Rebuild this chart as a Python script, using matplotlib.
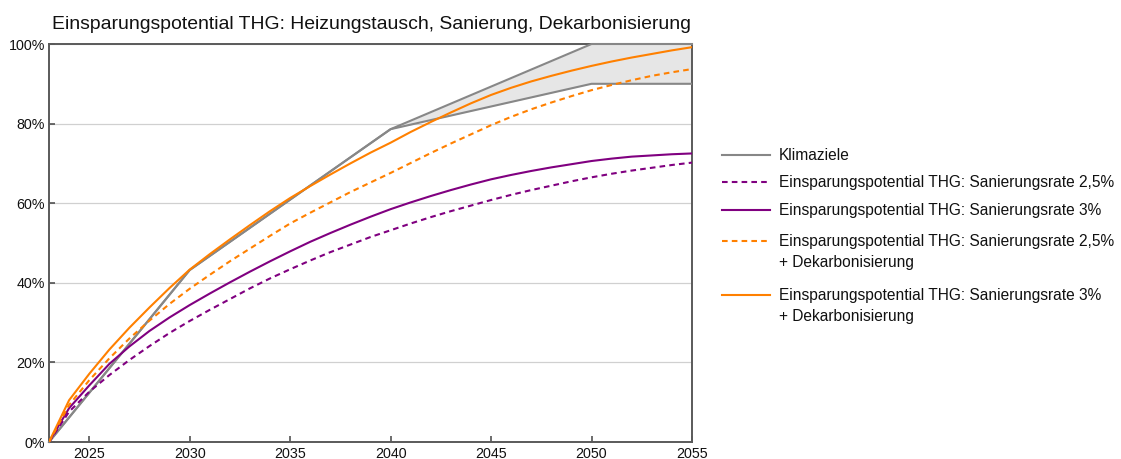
import matplotlib
matplotlib.use("Agg")
import matplotlib.pyplot as plt
from matplotlib.lines import Line2D

plt.rcParams['font.family'] = ['Liberation Sans', 'DejaVu Sans']

# ---------------- data ----------------
years = list(range(2023, 2056))

# Klimaziele (climate targets): corridor
ziel_years = [2023, 2030, 2040, 2050, 2055]
ziel_upper = [0, 43.2, 78.6, 100, 100]
ziel_lower = [0, 43.2, 78.6, 90, 90]

san25 = [0, 7.6, 12.6, 16.8, 20.6, 24.1, 27.4, 30.4, 33.2, 35.9, 38.6, 41.1, 43.4,
         45.6, 47.7, 49.6, 51.5, 53.2, 54.9, 56.5, 58.0, 59.4, 60.8, 62.1, 63.3,
         64.4, 65.5, 66.5, 67.4, 68.2, 68.9, 69.6, 70.2]
san3 = [0, 8.5, 14.2, 19.6, 24.0, 27.9, 31.3, 34.4, 37.3, 40.1, 42.8, 45.4, 47.9,
        50.3, 52.5, 54.6, 56.6, 58.5, 60.2, 61.8, 63.3, 64.7, 66.0, 67.1, 68.1,
        69.0, 69.8, 70.6, 71.2, 71.7, 72.0, 72.3, 72.5]
san25_dek = [0, 9.3, 15.5, 21.0, 26.0, 30.5, 34.7, 38.5, 42.0, 45.4, 48.6, 51.8, 54.9,
             57.6, 60.2, 62.8, 65.2, 67.6, 70.1, 72.6, 75.0, 77.3, 79.6, 81.7, 83.6,
             85.3, 86.9, 88.4, 89.7, 90.9, 92.0, 92.9, 93.7]
san3_dek = [0, 10.5, 17.1, 23.2, 28.7, 33.8, 38.7, 43.3, 47.2, 50.9, 54.5, 58.0, 61.3,
            64.3, 67.2, 70.0, 72.7, 75.2, 77.9, 80.4, 82.8, 85.1, 87.2, 89.0, 90.6,
            92.0, 93.3, 94.5, 95.6, 96.6, 97.5, 98.4, 99.2]

labels = ["Klimaziele",
          "Einsparungspotential THG: Sanierungsrate 2,5%",
          "Einsparungspotential THG: Sanierungsrate 3%",
          "Einsparungspotential THG: Sanierungsrate 2,5%\n+ Dekarbonisierung",
          "Einsparungspotential THG: Sanierungsrate 3%\n+ Dekarbonisierung"]
title = "Einsparungspotential THG: Heizungstausch, Sanierung, Dekarbonisierung"
xticks = [2025, 2030, 2035, 2040, 2045, 2050, 2055]
yticks = [0, 20, 40, 60, 80, 100]

# ---------------- styles ----------------
GRAY = "#878787"
PURPLE = "#800080"
ORANGE = "#ff8000"
LW = 1.5
DASH = (2.7, 2.0)
TXT = "#111111"

W, H = 1121, 459
fig = plt.figure(figsize=(W / 100, H / 100), dpi=100)
ax = fig.add_axes([49 / W, 1 - 442 / H, (692 - 49) / W, (442 - 44) / H])

ax.fill_between(ziel_years, ziel_lower, ziel_upper, color="#e6e6e6", lw=0, zorder=1)
ax.plot(ziel_years, ziel_upper, color=GRAY, lw=LW, zorder=3, solid_joinstyle='miter', clip_on=False)
ax.plot(ziel_years, ziel_lower, color=GRAY, lw=LW, zorder=3, solid_joinstyle='miter')
ax.plot(years, san25, color=PURPLE, lw=LW, dashes=DASH, zorder=4)
ax.plot(years, san3, color=PURPLE, lw=LW, zorder=4)
ax.plot(years, san25_dek, color=ORANGE, lw=LW, dashes=DASH, zorder=5)
ax.plot(years, san3_dek, color=ORANGE, lw=LW, zorder=5)

ax.set_xlim(2023, 2055)
ax.set_ylim(0, 100)
ax.set_xticks(xticks)
ax.set_xticklabels([str(t) for t in xticks])
ax.set_yticks(yticks)
ax.set_yticklabels([f"{t}%" for t in yticks])
ax.grid(axis='y', color="#d0d0d0", lw=0.9, zorder=0)
ax.set_axisbelow(True)
for s in ax.spines.values():
    s.set_color("#5a5a5a")
    s.set_linewidth(1.4)
ax.tick_params(axis='both', direction='in', length=4.5, width=1.1, color="#444444",
               labelsize=10.3, labelcolor=TXT)
ax.tick_params(axis='x', pad=3.6)
ax.tick_params(axis='y', pad=3.0)

fig.text(52 / W, 1 - 29 / H, title, fontsize=13.95, color=TXT, va='baseline', ha='left')

# ---------------- legend (drawn manually) ----------------
styles = [dict(color=GRAY), dict(color=PURPLE, dashes=DASH), dict(color=PURPLE),
          dict(color=ORANGE, dashes=DASH), dict(color=ORANGE)]
ys = [155, 182, 210, 241, 295]
LINE_GAP = 21
for lab, st, y in zip(labels, styles, ys):
    ln = Line2D([722 / W, 770 / W], [1 - y / H, 1 - y / H], transform=fig.transFigure,
                lw=LW, **st)
    fig.add_artist(ln)
    for i, part in enumerate(lab.split("\n")):
        fig.text(779 / W, 1 - (y + 5 + i * LINE_GAP) / H, part, fontsize=11.2,
                 color=TXT, va='baseline', ha='left')

fig.savefig("out.png", dpi=100)
